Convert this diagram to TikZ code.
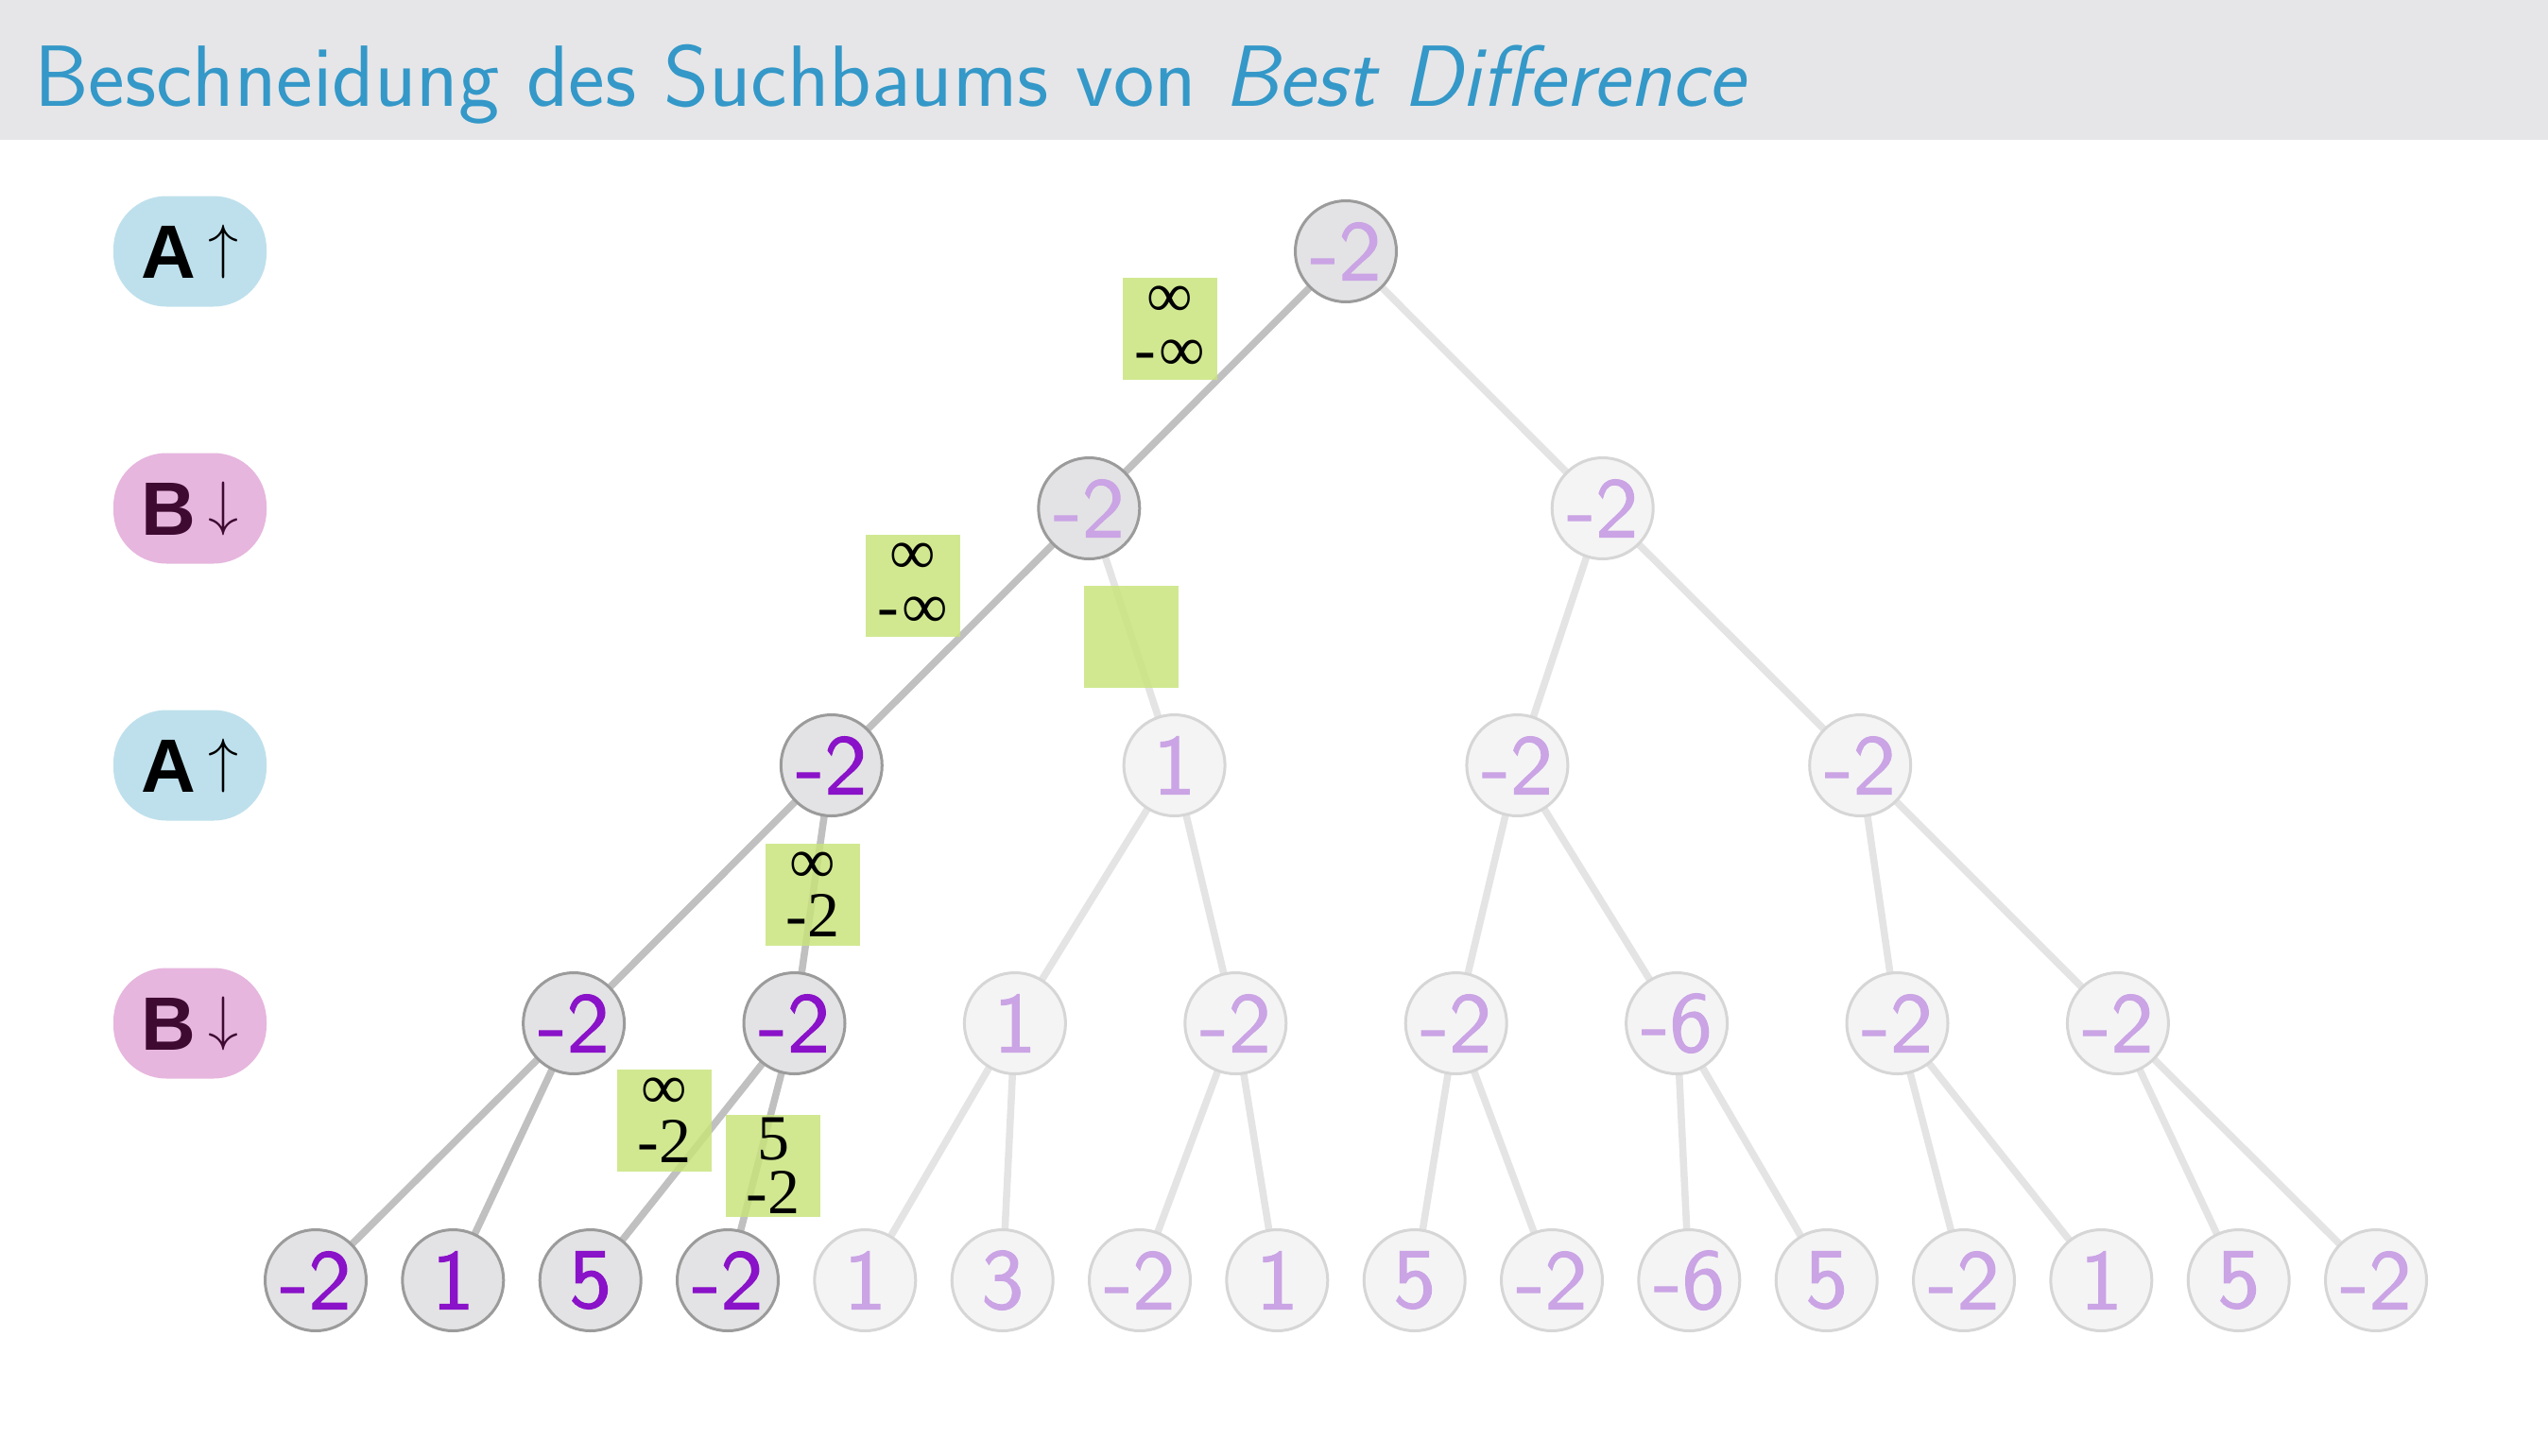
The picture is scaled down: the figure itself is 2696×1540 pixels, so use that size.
\RequirePackage{fix-cm}
\documentclass[tikz,border=0pt]{standalone}
\usepackage{fontspec}
\newfontfamily\pillfont{Liberation Sans}
\newfontfamily\windowfont{Liberation Serif}
\newfontfamily\digitfont{lmsans10-regular.otf}[FakeBold=1.2]
\usetikzlibrary{calc}
\pgfdeclarelayer{back}
\pgfdeclarelayer{edges}
\pgfsetlayers{back,edges,main}

\definecolor{headgray}{RGB}{230,230,232}
\definecolor{titleblue}{RGB}{52,152,200}
\definecolor{pillA}{RGB}{190,224,236}
\definecolor{pillB}{RGB}{230,182,222}
\definecolor{plum}{RGB}{62,10,50}
\definecolor{visfill}{RGB}{227,227,229}
\definecolor{visdraw}{RGB}{155,155,155}
\definecolor{fadfill}{RGB}{244,244,245}
\definecolor{faddraw}{RGB}{214,214,214}
\definecolor{deeppurple}{RGB}{138,18,200}
\definecolor{palepurple}{RGB}{202,164,228}
\definecolor{edgedark}{RGB}{192,192,192}
\definecolor{edgepale}{RGB}{228,228,228}
\definecolor{window}{RGB}{200,228,122}

\tikzset{
  tn/.style={circle, minimum size=107pt, inner sep=0pt, line width=3pt,
    font=\digitfont\fontsize{90}{90}\selectfont},
  seen/.style={tn, fill=visfill, draw=visdraw},
  unseen/.style={tn, fill=fadfill, draw=faddraw, text=palepurple},
  dk/.style={text=deeppurple},
  lt/.style={text=palepurple},
  hot/.style={draw=edgedark, line width=7.5pt},
  cold/.style={draw=edgepale, line width=7.5pt},
  win/.style={rectangle, fill=window, fill opacity=0.82, text opacity=1,
    minimum width=100pt, minimum height=108pt, inner sep=0pt, align=center,
    font=\windowfont\fontsize{68}{57}\selectfont},
  pill/.style={rounded corners=56pt, minimum width=162pt, minimum height=117pt,
    inner sep=0pt, font=\pillfont\bfseries\fontsize{80}{80}\selectfont},
}
\newcommand{\upar}{\,\raisebox{12pt}{\fontsize{64}{64}\selectfont$\uparrow$}}
\newcommand{\dnar}{\,\raisebox{12pt}{\fontsize{64}{64}\selectfont$\downarrow$}}

\begin{document}
\begin{tikzpicture}[x=1pt,y=-1pt]
  % page and header band
  \begin{pgfonlayer}{back}
    \fill[white] (0,0) rectangle (2696,1540);
    \fill[headgray] (0,0) rectangle (2696,148);
  \end{pgfonlayer}
  \useasboundingbox (0,0) rectangle (2696,1540);
  \node[anchor=base west, inner sep=0pt, text=titleblue,
        font=\sffamily\fontsize{92}{92}\selectfont] (title) at (36,112)
        {Beschneidung des Suchbaums von \textit{Best Difference}};

  % player labels per level
  \node[pill, fill=pillA, text=black] (pa0) at (201,266) {A\upar};
  \node[pill, fill=pillB, text=plum]  (pb1) at (201,538) {B\dnar};
  \node[pill, fill=pillA, text=black] (pa2) at (201,810) {A\upar};
  \node[pill, fill=pillB, text=plum]  (pb3) at (201,1083) {B\dnar};

  % level 0 and 1
  \node[seen,lt] (r)  at (1424,266)   {-2};
  \node[seen,lt] (a1) at (1152.3,538) {-2};
  \node[unseen]  (a2) at (1695.7,538) {-2};
  % level 2
  \node[seen,dk] (b1) at (879.8,810)  {-2};
  \node[unseen]  (b2) at (1242.6,810) {1};
  \node[unseen]  (b3) at (1605.4,810) {-2};
  \node[unseen]  (b4) at (1968.2,810) {-2};
  % level 3
  \node[seen,dk] (c1) at (607.1,1083)  {-2};
  \node[seen,dk] (c2) at (840.5,1083)  {-2};
  \node[unseen]  (c3) at (1073.9,1083) {1};
  \node[unseen]  (c4) at (1307.3,1083) {-2};
  \node[unseen]  (c5) at (1540.7,1083) {-2};
  \node[unseen]  (c6) at (1774.1,1083) {-6};
  \node[unseen]  (c7) at (2007.5,1083) {-2};
  \node[unseen]  (c8) at (2240.9,1083) {-2};
  % leaves
  \node[seen,dk] (d1)  at (334.0,1355)  {-2};
  \node[seen,dk] (d2)  at (479.3,1355)  {1};
  \node[seen,dk] (d3)  at (624.7,1355)  {5};
  \node[seen,dk] (d4)  at (770.0,1355)  {-2};
  \node[unseen]  (d5)  at (915.3,1355)  {1};
  \node[unseen]  (d6)  at (1060.7,1355) {3};
  \node[unseen]  (d7)  at (1206.0,1355) {-2};
  \node[unseen]  (d8)  at (1351.3,1355) {1};
  \node[unseen]  (d9)  at (1496.7,1355) {5};
  \node[unseen]  (d10) at (1642.0,1355) {-2};
  \node[unseen]  (d11) at (1787.3,1355) {-6};
  \node[unseen]  (d12) at (1932.7,1355) {5};
  \node[unseen]  (d13) at (2078.0,1355) {-2};
  \node[unseen]  (d14) at (2223.3,1355) {1};
  \node[unseen]  (d15) at (2368.7,1355) {5};
  \node[unseen]  (d16) at (2514.0,1355) {-2};

  % tree edges, behind the nodes
  \begin{pgfonlayer}{edges}
    \draw[hot]  (r.center) -- (a1.center);
    \draw[cold] (r.center) -- (a2.center);
    \draw[hot]  (a1.center) -- (b1.center);
    \draw[cold] (a1.center) -- (b2.center);
    \draw[cold] (a2.center) -- (b3.center);
    \draw[cold] (a2.center) -- (b4.center);
    \draw[hot]  (b1.center) -- (c1.center);
    \draw[hot]  (b1.center) -- (c2.center);
    \draw[cold] (b2.center) -- (c3.center);
    \draw[cold] (b2.center) -- (c4.center);
    \draw[cold] (b3.center) -- (c5.center);
    \draw[cold] (b3.center) -- (c6.center);
    \draw[cold] (b4.center) -- (c7.center);
    \draw[cold] (b4.center) -- (c8.center);
    \draw[hot]  (c1.center) -- (d1.center);
    \draw[hot]  (c1.center) -- (d2.center);
    \draw[hot]  (c2.center) -- (d3.center);
    \draw[hot]  (c2.center) -- (d4.center);
    \draw[cold] (c3.center) -- (d5.center);
    \draw[cold] (c3.center) -- (d6.center);
    \draw[cold] (c4.center) -- (d7.center);
    \draw[cold] (c4.center) -- (d8.center);
    \draw[cold] (c5.center) -- (d9.center);
    \draw[cold] (c5.center) -- (d10.center);
    \draw[cold] (c6.center) -- (d11.center);
    \draw[cold] (c6.center) -- (d12.center);
    \draw[cold] (c7.center) -- (d13.center);
    \draw[cold] (c7.center) -- (d14.center);
    \draw[cold] (c8.center) -- (d15.center);
    \draw[cold] (c8.center) -- (d16.center);
  \end{pgfonlayer}

  % search windows (beta over alpha)
  \node[win, anchor=south east] (w1) at ($(r)!0.5!(a1)$)  {∞\\-\kern3pt∞};
  \node[win, anchor=south east] (w2) at ($(a1)!0.5!(b1)$) {∞\\-\kern3pt∞};
  \node[win] (w3) at ($(a1)!0.5!(b2)$) {};
  \node[win] (w4) at ($(b1)!0.5!(c2)$) {∞\\-2};
  \node[win] (w5) at (703,1186) {∞\\-2};
  \node[win] (w6) at (818,1234) {5\\-2};
\end{tikzpicture}
\end{document}
